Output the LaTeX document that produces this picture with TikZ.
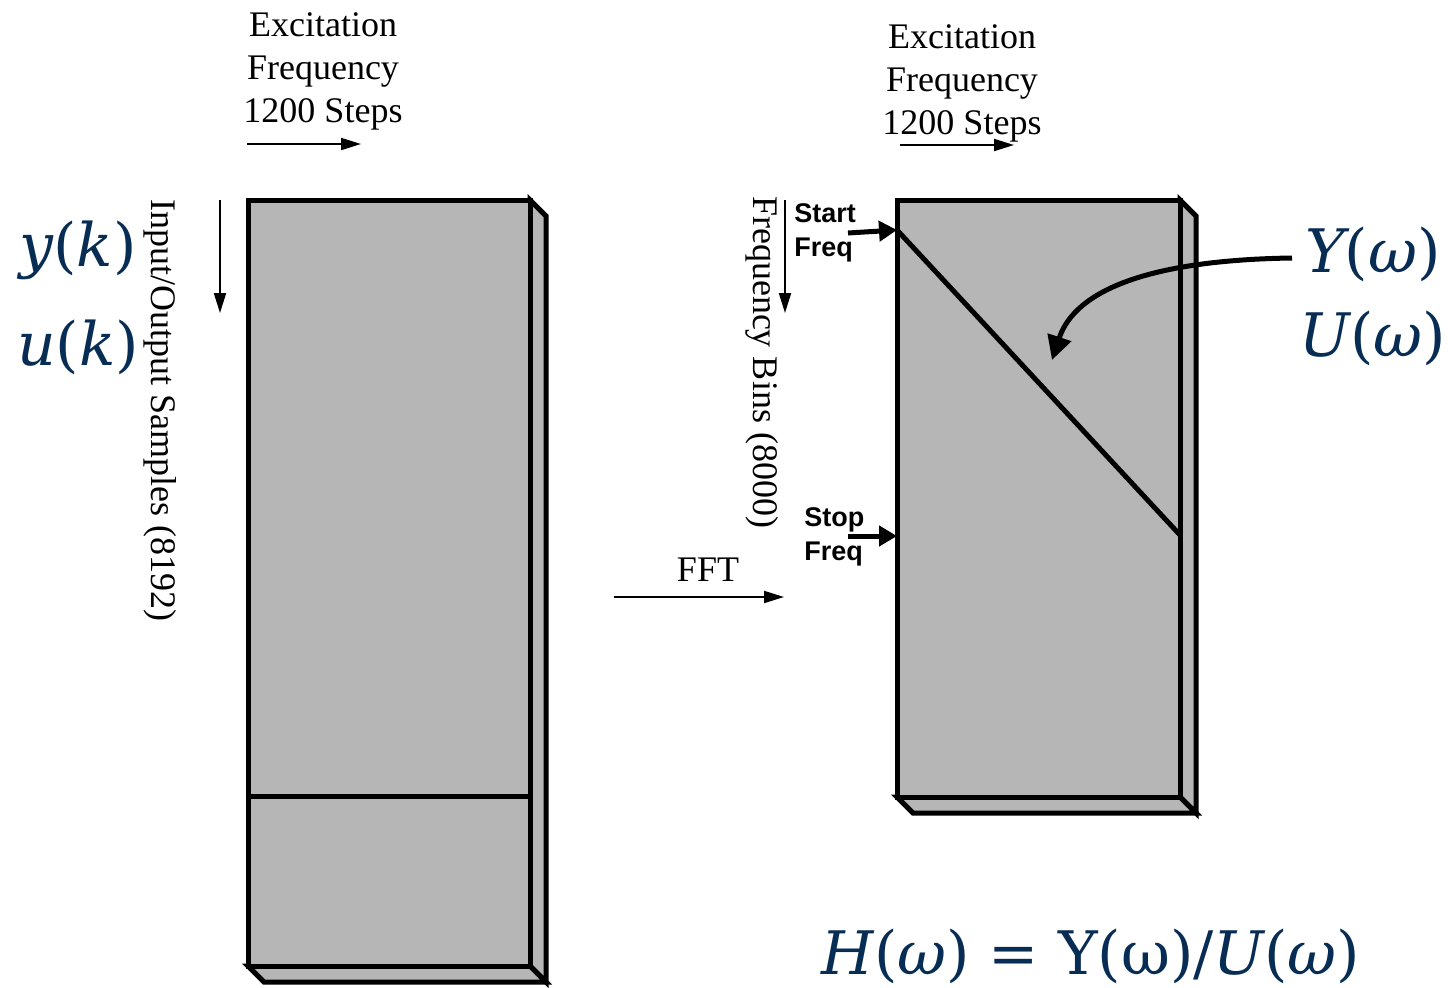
\documentclass[tikz,border=0pt]{standalone}
\usepackage{fontspec}
\setmainfont{Liberation Serif}
\setsansfont{Liberation Sans}
\newfontfamily\mfont{DejaVu Serif}
\usetikzlibrary{arrows.meta}
\definecolor{mathblue}{RGB}{8,45,85}
\definecolor{boxgray}{RGB}{182,182,182}
\newcommand{\mi}[1]{{\itshape #1}}
\tikzset{
  face/.style={draw=black, line width=2.5pt, fill=boxgray, line join=miter},
  edge/.style={draw=black, line width=2.5pt},
  thinarrow/.style={draw=black, line width=1pt, -{Triangle[length=10pt,width=6pt]}},
  thickarrow/.style={draw=black, line width=2.5pt, -{Triangle[length=9pt,width=10pt]}},
  label/.style={font=\fontsize{18}{21.5}\selectfont, align=center, inner sep=0pt},
  tag/.style={font=\sffamily\bfseries\fontsize{13.5}{17}\selectfont, align=left, inner sep=0pt, anchor=west},
  mathlbl/.style={text=mathblue, font=\mfont\fontsize{30}{35}\selectfont, inner sep=0pt}
}
\begin{document}
\begin{tikzpicture}[x=0.5pt,y=-0.5pt]
\useasboundingbox (0,0) rectangle (1448,987);
% left box
\path[face] (530,200) -- (546,216) -- (546,982) -- (530,966) -- cycle;
\path[face] (248,966) -- (264,982) -- (546,982) -- (530,966) -- cycle;
\path[face] (248,200) rectangle (530,966);
\draw[edge] (248,796) -- (530,796);
% right box
\path[face] (1180,200) -- (1196,216) -- (1196,813) -- (1180,797) -- cycle;
\path[face] (897,797) -- (913,813) -- (1196,813) -- (1180,797) -- cycle;
\path[face] (897,200) rectangle (1180,797);
\coordinate (dstart) at (897,230);
\coordinate (dstop) at (1180,535);
\draw[edge] (dstart) -- (dstop);
% top texts
\node[label] (exl) at (323,71) {Excitation\\Frequency\\1200 Steps};
\node[label] (exr) at (962,83) {Excitation\\Frequency\\1200 Steps};
\coordinate (al1) at (247,144); \coordinate (al2) at (361,144);
\draw[thinarrow] (al1) -- (al2);
\coordinate (ar1) at (900,145); \coordinate (ar2) at (1014,145);
\draw[thinarrow] (ar1) -- (ar2);
% vertical labels
\node[label, rotate=-90] (ios) at (160,410) {Input/Output Samples (8192)};
\coordinate (vl1) at (220,200); \coordinate (vl2) at (220,313);
\draw[thinarrow] (vl1) -- (vl2);
\node[label, rotate=-90] (fb) at (762,362) {Frequency Bins (8000)};
\coordinate (vr1) at (785,200); \coordinate (vr2) at (785,313);
\draw[thinarrow] (vr1) -- (vr2);
% start / stop
\node[tag] (start) at (794,233) {Start\\Freq};
\coordinate (sa) at (848,233);
\draw[thickarrow] (sa) -- (dstart);
\node[tag] (stop) at (804,537) {Stop\\Freq};
\coordinate (pa) at (848,536); \coordinate (pb) at (897,536);
\draw[thickarrow] (pa) -- (pb);
% FFT
\node[label] (fft) at (708,570) {FFT};
\coordinate (f1) at (614,597); \coordinate (f2) at (784,597);
\draw[thinarrow] (f1) -- (f2);
% math labels
\node[mathlbl] (yk) at (78,250) {\mi{y}(\mi{k})};
\node[mathlbl] (uk) at (78,347) {\mi{u}(\mi{k})};
\node[mathlbl] (Yw) at (1373,254) {\mi{Y}(\mi{ω})};
\node[mathlbl] (Uw) at (1373,338) {\mi{U}(\mi{ω})};
\coordinate (cstart) at (1292,258);
\coordinate (cend) at (1052,360);
\draw[draw=black, line width=2.5pt, -{Triangle[length=12pt,width=12pt]}] (cstart) .. controls (1150,260) and (1075,290) .. (cend);
\node[mathlbl] (Hw) at (1091,956) {\mi{H}(\mi{ω}) = Y(ω)/\mi{U}(\mi{ω})};
\end{tikzpicture}
\end{document}
